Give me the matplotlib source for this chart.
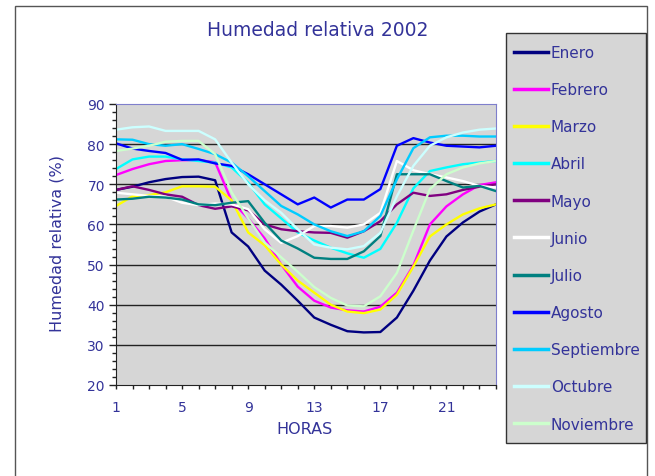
import numpy as np
import matplotlib.pyplot as plt
from matplotlib.patches import Rectangle

horas = np.arange(1, 25)

enero = [68.6, 69.4, 70.5, 71.3, 71.8, 71.9, 71.0, 58.0, 54.5, 48.5, 45.0, 41.0,
         36.8, 35.0, 33.4, 33.1, 33.2, 36.8, 43.5, 51.0, 57.0, 60.5, 63.2, 65.0]
febrero = [72.3, 73.8, 75.0, 75.8, 76.0, 76.0, 75.5, 65.8, 61.5, 56.5, 50.0, 44.5,
           41.0, 39.3, 38.6, 38.3, 39.5, 43.0, 49.8, 60.0, 64.5, 67.5, 69.8, 70.5]
marzo = [64.6, 67.0, 67.3, 68.0, 69.5, 69.5, 69.4, 66.0, 58.0, 54.8, 50.0, 46.0,
         43.0, 40.0, 38.3, 37.9, 38.8, 42.5, 49.5, 57.0, 60.0, 62.5, 64.0, 65.0]
abril = [73.8, 76.2, 76.9, 76.9, 76.2, 75.8, 75.4, 74.2, 70.4, 65.0, 61.5, 58.0,
         56.0, 54.2, 52.8, 51.7, 53.9, 60.4, 69.0, 73.3, 74.2, 75.0, 75.4, 75.8]
mayo = [68.6, 69.5, 68.6, 67.5, 66.9, 64.8, 63.9, 64.5, 63.5, 60.0, 58.8, 58.3,
        58.0, 57.9, 56.7, 58.3, 60.8, 65.0, 67.9, 67.1, 67.5, 68.6, 69.4, 70.0]
junio = [67.9, 67.5, 67.1, 66.9, 65.4, 64.8, 65.2, 65.0, 63.8, 58.8, 55.4, 57.1,
         59.6, 59.6, 59.2, 60.0, 62.9, 75.8, 73.5, 72.5, 71.7, 70.8, 69.6, 69.2]
julio = [66.2, 66.4, 66.9, 66.7, 66.2, 65.0, 64.8, 65.4, 65.8, 60.4, 56.0, 54.0,
         51.7, 51.4, 51.4, 53.3, 57.1, 72.5, 72.5, 72.5, 70.8, 69.2, 69.6, 68.3]
agosto = [80.2, 78.9, 78.3, 77.8, 76.1, 76.2, 75.2, 74.6, 72.5, 70.0, 67.5, 65.0,
          66.7, 64.2, 66.2, 66.2, 68.8, 79.6, 81.5, 80.4, 79.6, 79.4, 79.2, 79.6]
septiembre = [81.2, 81.1, 80.0, 79.6, 80.0, 78.8, 77.5, 75.4, 72.0, 68.3, 64.6, 62.5,
              60.0, 58.3, 57.1, 58.3, 62.1, 71.2, 79.0, 81.7, 82.1, 82.1, 81.9, 81.9]
octubre = [83.6, 84.2, 84.4, 83.3, 83.3, 83.3, 81.2, 75.4, 70.0, 66.0, 62.9, 58.8,
           55.0, 54.2, 53.8, 54.6, 57.9, 67.0, 74.6, 79.6, 81.7, 82.9, 83.6, 83.9]
noviembre = [78.3, 78.9, 79.6, 80.6, 80.8, 80.8, 77.5, 68.0, 61.5, 55.5, 51.8, 48.2,
             44.4, 41.7, 39.8, 39.6, 42.1, 47.9, 58.5, 68.8, 72.5, 74.2, 75.2, 75.8]

meses = ["Enero", "Febrero", "Marzo", "Abril", "Mayo", "Junio", "Julio",
         "Agosto", "Septiembre", "Octubre", "Noviembre"]
series = [enero, febrero, marzo, abril, mayo, junio, julio,
          agosto, septiembre, octubre, noviembre]
colores = ["#000080", "#ff00ff", "#ffff00", "#00ffff", "#800080", "#ffffff",
           "#008080", "#0000ff", "#00ccff", "#ccffff", "#ccffcc"]

texto = "#333399"
W, H = 655, 477

fig = plt.figure(figsize=(W / 100, H / 100), dpi=100)
fig.patch.set_facecolor("white")

# marco exterior del grafico
fig.add_artist(Rectangle((15 / W, -0.1), (647 - 15) / W, 1.1 - 7 / H,
                         transform=fig.transFigure, fill=False,
                         edgecolor="#555555", lw=1))

ax = fig.add_axes([116 / W, 1 - 386 / H, (496 - 116) / W, (386 - 105) / H])
ax.set_facecolor("#d6d6d6")

for y in range(30, 90, 10):
    ax.axhline(y, color="#222222", lw=1, zorder=1)

for nombre, vals, c in zip(meses, series, colores):
    ax.plot(horas, vals, color=c, lw=1.7, label=nombre, zorder=2)

ax.set_xlim(1, 24)
ax.set_ylim(20, 90)
ax.set_xticks(horas)
ax.set_xticklabels([str(h) if (h - 1) % 4 == 0 else "" for h in horas])
ax.set_yticks(range(20, 91, 10))
ax.set_yticks(range(20, 91, 2), minor=True)
ax.tick_params(axis="x", direction="out", length=3, width=1, pad=8,
               colors="#222222", labelcolor=texto, labelsize=10)
ax.tick_params(axis="y", which="major", direction="out", length=5, width=1,
               pad=3, colors="#222222", labelcolor=texto, labelsize=10)
ax.tick_params(axis="y", which="minor", direction="out", length=3, width=1,
               colors="#222222")
for s in ["left", "bottom"]:
    ax.spines[s].set_color("#222222")
for s in ["top", "right"]:
    ax.spines[s].set_color("#7f7fcc")

fig.text(318 / W, 1 - 30 / H, "Humedad relativa 2002", ha="center", va="center",
         color=texto, fontsize=13.5)
fig.text(305 / W, 1 - 430 / H, "HORAS", ha="center", va="center",
         color=texto, fontsize=11.5)
fig.text(57 / W, 1 - 244 / H, "Humedad relativa (%)", ha="center", va="center",
         rotation=90, color=texto, fontsize=11.5)

# caja de la leyenda
fig.add_artist(Rectangle((506 / W, 1 - 444 / H), 140 / W, 410 / H,
                         transform=fig.transFigure, facecolor="#d6d6d6",
                         edgecolor="#333333", lw=1))
leg = fig.legend(loc="upper left", bbox_to_anchor=(514 / W, 1 - 46 / H),
                 frameon=False, fontsize=11, handlelength=2.2,
                 handletextpad=0.2, labelspacing=1.45, borderpad=0,
                 borderaxespad=0)
for t in leg.get_texts():
    t.set_color(texto)
for l in leg.get_lines():
    l.set_linewidth(2.5)

fig.savefig("out.png", dpi=100)
